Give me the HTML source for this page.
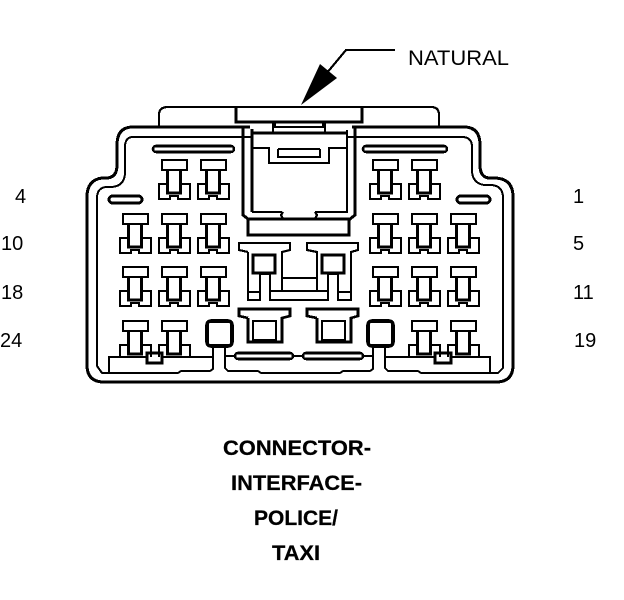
<!DOCTYPE html>
<html><head><meta charset="utf-8"><style>
html,body{margin:0;padding:0;background:#fff}
svg{display:block}
text{font-family:"Liberation Sans",sans-serif;fill:#000;font-size:20px}
.n{font-size:21.5px}
.b{font-weight:bold;font-size:21px;stroke:#000;stroke-width:.25px}
</style></head><body>
<svg width="624" height="600" viewBox="0 0 624 600" xmlns="http://www.w3.org/2000/svg">
<defs>
<g id="t" fill="none" stroke="#000" stroke-width="2.2" shape-rendering="crispEdges">
<rect x="0" y="0" width="25" height="10"/>
<path d="M5.5 10V33H18.5V10" stroke-width="2.6"/>
<path d="M6 24H-3V39H8V36H16V39H28V24H18"/>
</g>
<g id="u" fill="none" stroke="#000" stroke-width="2.2" shape-rendering="crispEdges">
<rect x="0" y="0" width="25" height="10"/>
<path d="M5.5 10V33H18.5V10" stroke-width="2.6"/>
<path d="M6 24H-3V36M18 24H28V36"/>
</g>
</defs>
<g fill="none" stroke="#000" stroke-width="2.2" shape-rendering="crispEdges">
<!-- outer -->
<path stroke-width="3" d="M250 127H133Q117 127 117 145V165Q117 178 106 178H102Q87 180 87 197V365Q87 382 104 382H496Q513 382 513 365V197Q513 178 494 178H490Q480 178 480 165V145Q480 127 464 127H352"/>
<!-- inner -->
<path stroke-width="2" d="M252 137H133Q125 137 125 147V172Q125 186 112 187H106Q97 188 97 198V366L102 373H178L181 371H210L213 369V347M225 347V368L228 371H258L261 373H340L343 371H370L373 369V347M385 347V368L388 371H418L421 373H498L503 368V198Q503 185 490 185H484Q472 183 472 170V147Q472 137 462 137H347"/>
<!-- top tab -->
<path d="M159 127V115Q159 107 168 107H431Q439 107 439 115V127"/>
<path d="M236 107V122H362V107" stroke-width="3"/>
<path d="M273 122V132M325 122V132M275 122V127H323V122"/>
<!-- centre -->
<path stroke-width="3" d="M252 129V212M348 133H252M355 127V215L350 219H248L243 215V127"/>
<path d="M252 148H269V163H329V148H347M347 130V212H315M252 212H282"/>
<path d="M278 149V157H320V149M278 149H320" stroke-width="2.4"/>
<path d="M283 212L281 215L283 219M315 212L317 215L315 219"/>
<path d="M248 219V235H349V219" stroke-width="2.6"/>
<!-- middle T top -->
<path d="M248 252L239 250V243H290V250L282 252V291M248 252V300H260V274H270V300H328V274H338V300H351V252L358 250V243H307V250L317 252V291M248 292H260M338 292H351"/>
<path d="M270 291H328"/>
<path d="M282 278H317"/>
<rect x="253" y="255" width="22" height="18" stroke-width="3"/>
<rect x="322" y="255" width="22" height="18" stroke-width="3"/>
<!-- middle T lower -->
<path d="M248 318L239 316V309H290V316L282 318V342H248V318" stroke-width="2.6"/>
<rect x="253" y="321" width="23" height="19"/>
<path d="M317 318L307 316V309H358V316L351 318V342H317V318" stroke-width="2.6"/>
<rect x="322" y="321" width="23" height="19"/>
<!-- squares -->
<rect x="207" y="321" width="25" height="25" rx="4" stroke-width="3.6"/>
<rect x="368" y="321" width="25" height="25" rx="4" stroke-width="3.6"/>
<!-- bottom slots -->
<rect x="235" y="353" width="58" height="6" rx="3" stroke-width="2.6"/>
<rect x="303" y="353" width="60" height="6" rx="3" stroke-width="2.6"/>
<path d="M225 356H235M293 356H303M363 356H373"/>
<!-- bottom bars -->
<path d="M213 357H109V373M385 357H490V373"/>
<rect x="147" y="353" width="15" height="10" fill="#fff" stroke-width="2.6"/>
<rect x="435" y="353" width="16" height="10" fill="#fff" stroke-width="2.6"/>
<!-- pills -->
<rect x="153" y="146" width="81" height="6" rx="3" stroke-width="2.6"/>
<rect x="363" y="146" width="84" height="6" rx="3" stroke-width="2.6"/>
<rect x="109" y="196" width="33" height="7" rx="3.5" stroke-width="3"/>
<rect x="457" y="196" width="33" height="7" rx="3.5" stroke-width="3"/>
</g>
<!-- terminals -->
<use href="#t" x="162" y="160"/><use href="#t" x="201" y="160"/><use href="#t" x="373" y="160"/><use href="#t" x="412" y="160"/>
<use href="#t" x="123" y="214"/><use href="#t" x="162" y="214"/><use href="#t" x="201" y="214"/><use href="#t" x="373" y="214"/><use href="#t" x="412" y="214"/><use href="#t" x="451" y="214"/>
<use href="#t" x="123" y="267"/><use href="#t" x="162" y="267"/><use href="#t" x="201" y="267"/><use href="#t" x="373" y="267"/><use href="#t" x="412" y="267"/><use href="#t" x="451" y="267"/>
<use href="#u" x="123" y="321"/><use href="#u" x="162" y="321"/><use href="#u" x="412" y="321"/><use href="#u" x="451" y="321"/>
<!-- arrow -->
<polygon points="301,105 320,64 337,78" fill="#000"/>
<path d="M326 74L346 50H395" fill="none" stroke="#000" stroke-width="2.2" shape-rendering="crispEdges"/>
<!-- labels -->
<text class="n" x="408" y="65" textLength="101" lengthAdjust="spacingAndGlyphs">NATURAL</text>
<text x="15" y="203">4</text>
<text x="1" y="250">10</text>
<text x="1" y="299">18</text>
<text x="0" y="347">24</text>
<text x="573" y="203">1</text>
<text x="573" y="250">5</text>
<text x="573" y="299">11</text>
<text x="574" y="347">19</text>
<text class="b" x="223" y="455" textLength="148" lengthAdjust="spacingAndGlyphs">CONNECTOR-</text>
<text class="b" x="231" y="490" textLength="131" lengthAdjust="spacingAndGlyphs">INTERFACE-</text>
<text class="b" x="254" y="525" textLength="84" lengthAdjust="spacingAndGlyphs">POLICE/</text>
<text class="b" x="272" y="560" textLength="48" lengthAdjust="spacingAndGlyphs">TAXI</text>
</svg>
</body></html>
